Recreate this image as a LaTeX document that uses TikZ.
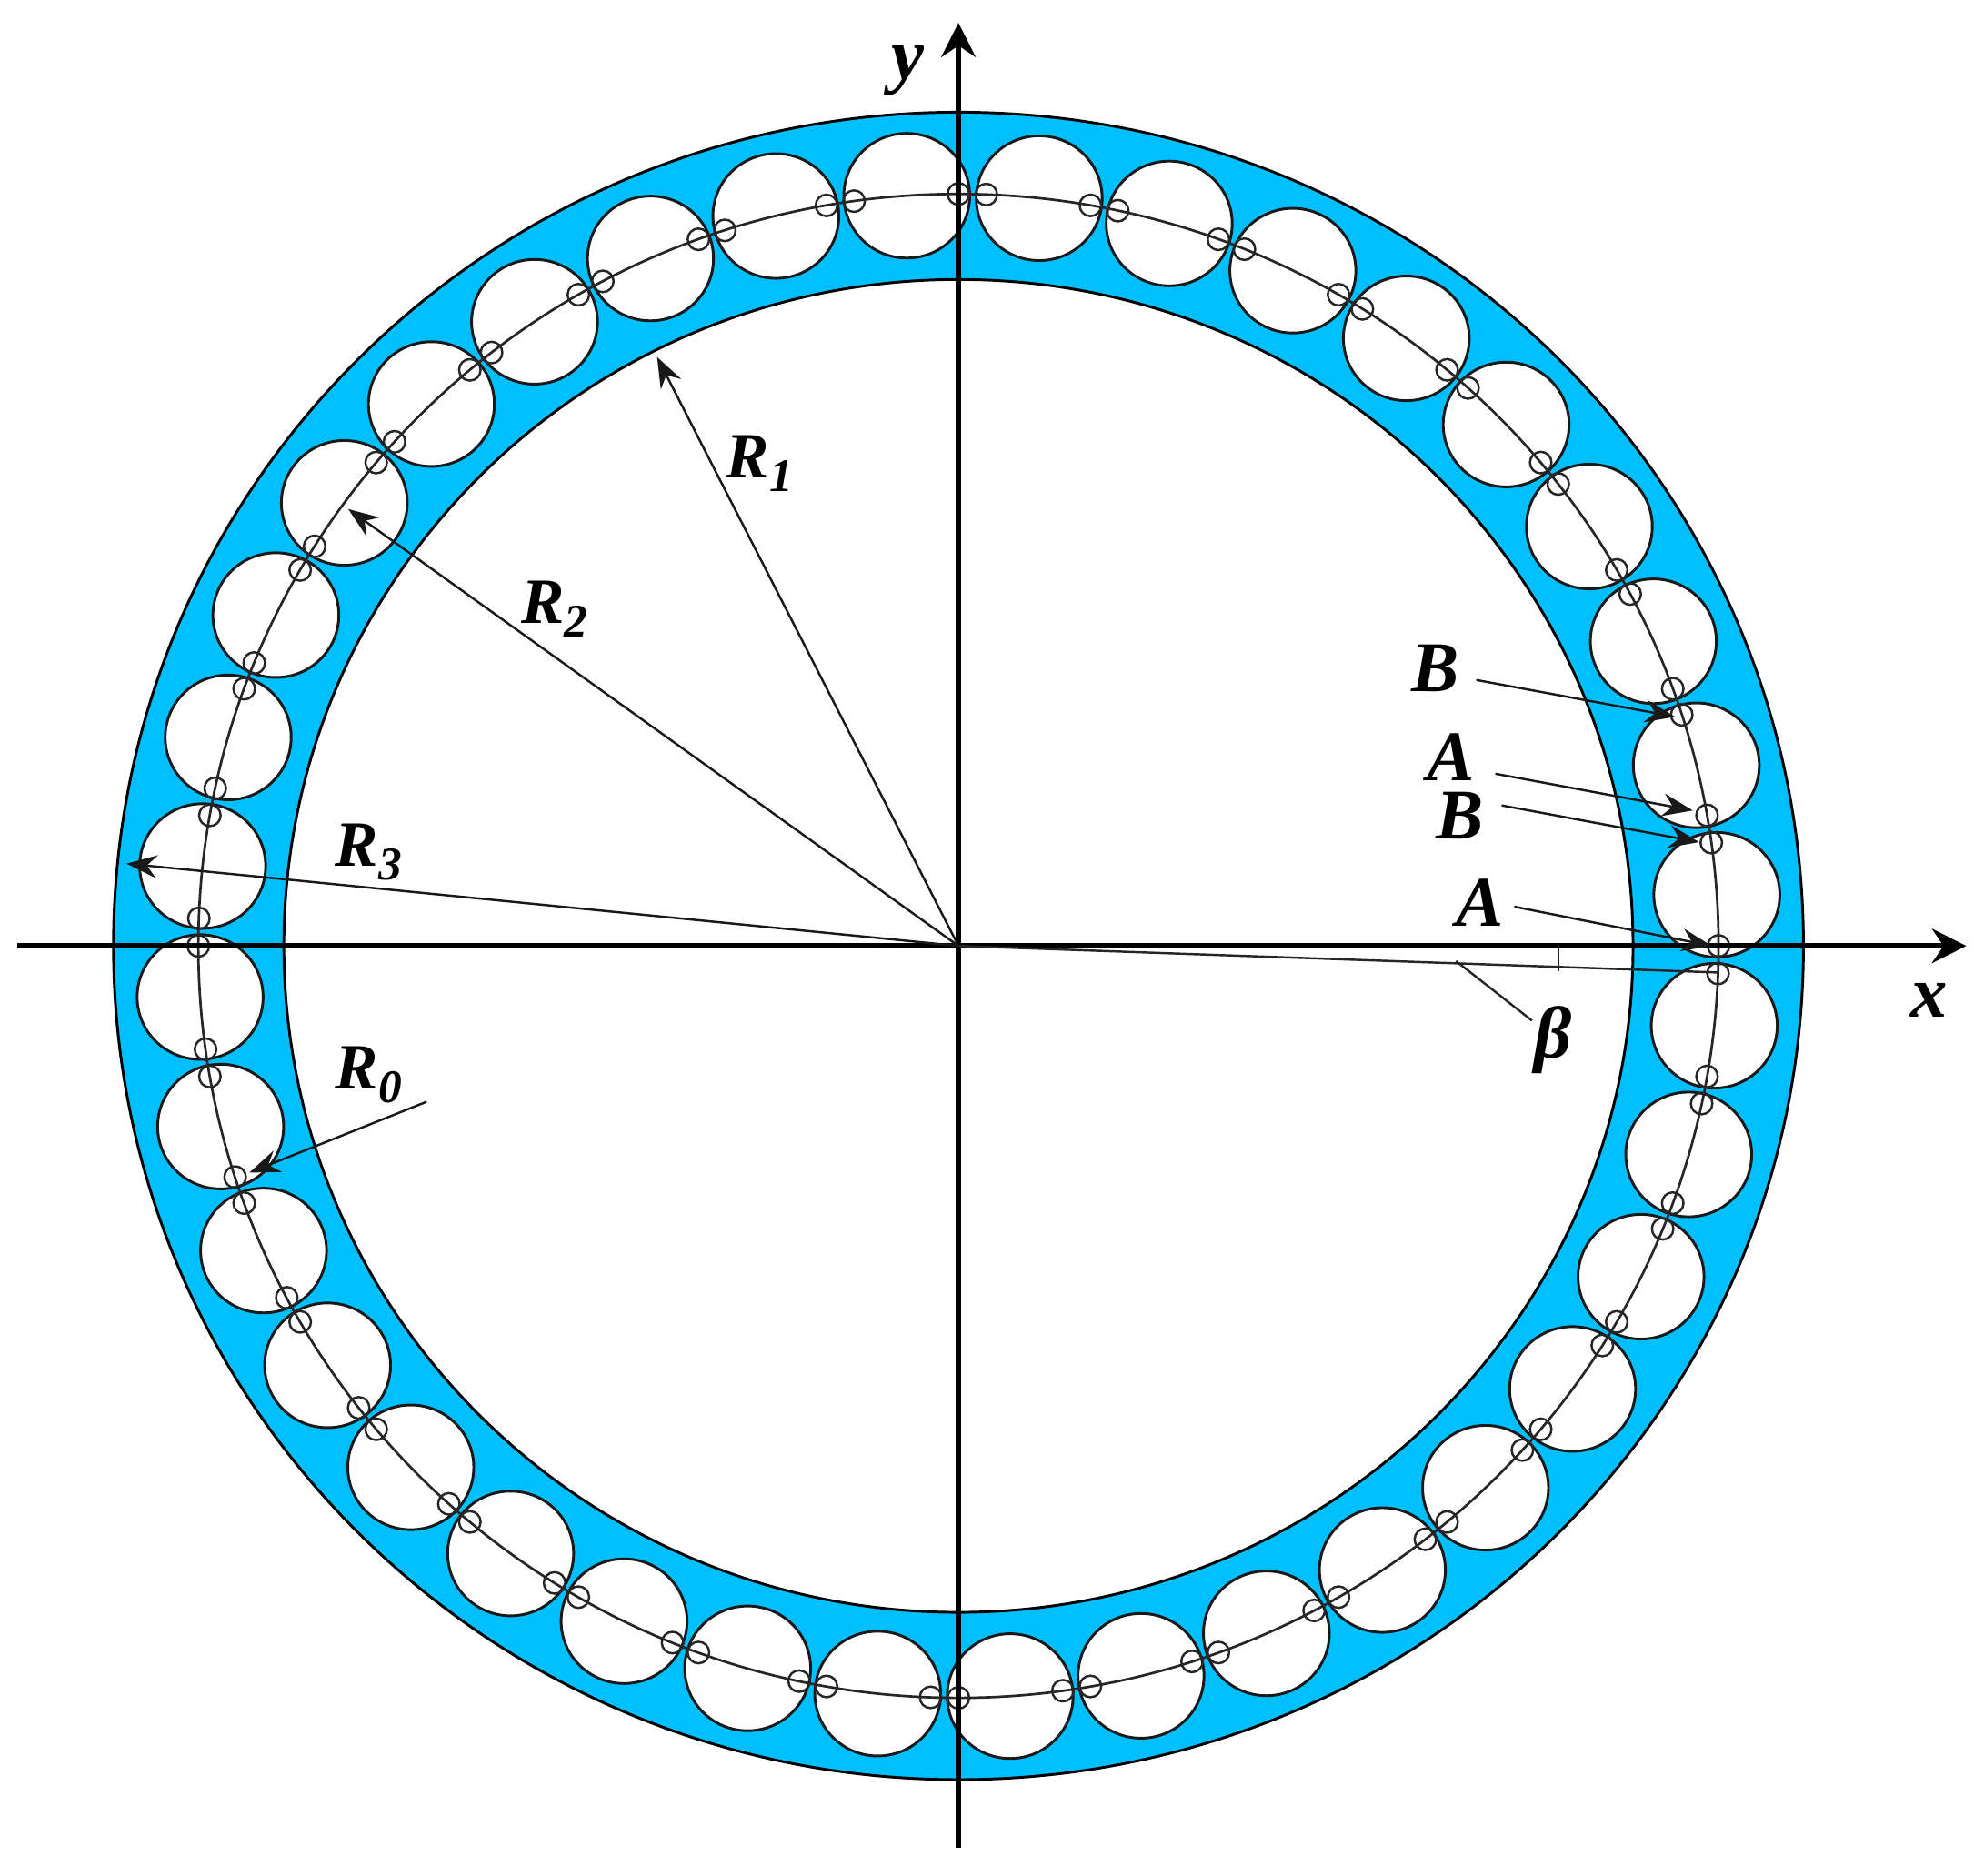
\documentclass[tikz,border=0pt]{standalone}
\usepackage{fontspec}
\setmainfont{Liberation Serif}
\usetikzlibrary{arrows.meta}
\definecolor{ringblue}{HTML}{00BFFF}
\newcommand{\lowidx}[1]{\raisebox{-3pt}{\fontsize{10.5}{12}\selectfont #1}}
\tikzset{
  ringline/.style={draw=black,line width=0.6pt},
  ballline/.style={draw=black!90,line width=0.6pt,fill=white},
  pitchline/.style={draw=black!85,line width=0.55pt},
  dotline/.style={draw=black!85,line width=0.5pt},
  axisline/.style={draw=black,line width=1.25pt,-{Stealth[length=2.7mm,width=2.7mm,inset=0.9mm]}},
  leader/.style={draw=black!90,line width=0.5pt,-{Stealth[length=2.4mm,width=1.8mm,inset=0.8mm]}},
  plainleader/.style={draw=black!85,line width=0.5pt},
  lab/.style={font=\fontsize{14.5}{16}\selectfont\bfseries\itshape,inner sep=0pt},
  letter/.style={font=\fontsize{16}{18}\selectfont\bfseries\itshape,inner sep=0pt},
  axlab/.style={font=\fontsize{16.5}{19}\selectfont\bfseries\itshape,inner sep=0pt},
}
\begin{document}
\begin{tikzpicture}[x=0.01cm,y=-0.01cm]
\useasboundingbox (0,0) rectangle (1567,1481);
\coordinate (c) at (757,747);
% ring
\fill[ringblue,ringline] (c) ellipse [x radius=6.67cm,y radius=6.58cm];
\fill[white,ringline] (c) ellipse [x radius=5.325cm,y radius=5.26cm];
% balls
\foreach \k in {0,...,35}{
  \pgfmathsetmacro{\a}{3.9+10*\k}
  \path[ballline] ([shift={(c)}]\a:6cm and 5.935cm) ellipse [x radius=0.497cm,y radius=0.492cm];
}
% pitch circle
\draw[pitchline] (c) ellipse [x radius=6cm,y radius=5.935cm];
% small circles
\foreach \k in {0,...,35}{
  \pgfmathsetmacro{\a}{10*\k}
  \pgfmathsetmacro{\b}{10*\k+7.9}
  \draw[dotline] ([shift={(c)}]\a:6cm and 5.935cm) circle [radius=0.085cm];
  \draw[dotline] ([shift={(c)}]\b:6cm and 5.935cm) circle [radius=0.085cm];
}
% axes
\coordinate (xl) at (14,747);
\coordinate (xr) at (1553,747);
\coordinate (yb) at (757,1459);
\coordinate (yt) at (757,18);
\draw[axisline] (xl) -- (xr);
\draw[axisline] (yb) -- (yt);
\node[axlab] (ylab) at (717,56) {y};
\node[axlab] (xlab) at (1524,790) {x};
% radii
\coordinate (r1) at (519,282);
\coordinate (r2) at (275,402);
\coordinate (r3) at (100,682);
\coordinate (r0s) at (337,870);
\coordinate (r0e) at (197,926);
\draw[leader] (c) -- (r1);
\draw[leader] (c) -- (r2);
\draw[leader] (c) -- (r3);
\draw[leader] (r0s) -- (r0e);
\node[lab] (R1) at (600,366) {R\lowidx{1}};
\node[lab] (R2) at (438,481) {R\lowidx{2}};
\node[lab] (R3) at (291,673) {R\lowidx{3}};
\node[lab] (R0) at (291,849) {R\lowidx{0}};
% A / B labels
\node[letter] (B1) at (1134,528) {B};
\node[letter] (A1) at (1146,598) {A};
\node[letter] (B2) at (1153,644) {B};
\node[letter] (A2) at (1169,713) {A};
\coordinate (b1s) at (1166,537);
\coordinate (b1e) at (1323,566);
\coordinate (a1s) at (1181,611);
\coordinate (a1e) at (1337,640);
\coordinate (b2s) at (1186,636);
\coordinate (b2e) at (1342,665);
\coordinate (a2s) at (1196,716);
\coordinate (a2e) at (1352,747);
\draw[leader] (b1s) -- (b1e);
\draw[leader] (a1s) -- (a1e);
\draw[leader] (b2s) -- (b2e);
\draw[leader] (a2s) -- (a2e);
% beta
\coordinate (bp) at (1357,768);
\coordinate (t1) at (1231,747);
\coordinate (t2) at (1231,767);
\coordinate (bl1) at (1150,759);
\coordinate (bl2) at (1210,806);
\draw[plainleader] (c) -- (bp);
\draw[plainleader] (t1) -- (t2);
\draw[plainleader] (bl1) -- (bl2);
\node[axlab] (beta) at (1227,821) {β};
\end{tikzpicture}
\end{document}
